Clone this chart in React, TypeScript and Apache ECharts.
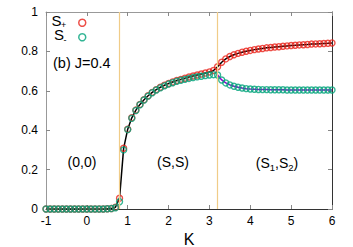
import React, { useEffect, useRef } from "react";
import * as echarts from "echarts";

const kValues = [
  -1.0, -0.9, -0.8, -0.7, -0.6, -0.5, -0.4, -0.3, -0.2, -0.1,
  0.0, 0.1, 0.2, 0.3, 0.4, 0.5, 0.6, 0.7, 0.8, 0.9,
  1.0, 1.1, 1.2, 1.3, 1.4, 1.5, 1.6, 1.7, 1.8, 1.9,
  2.0, 2.1, 2.2, 2.3, 2.4, 2.5, 2.6, 2.7, 2.8, 2.9,
  3.0, 3.1, 3.2, 3.3, 3.4, 3.5, 3.6, 3.7, 3.8, 3.9,
  4.0, 4.1, 4.2, 4.3, 4.4, 4.5, 4.6, 4.7, 4.8, 4.9,
  5.0, 5.1, 5.2, 5.3, 5.4, 5.5, 5.6, 5.7, 5.8, 5.9,
  6.0,
];

const sPlus = [
  0, 0, 0, 0, 0, 0, 0, 0, 0, 0,
  0, 0, 0, 0, 0, 0.001, 0.002, 0.009, 0.055, 0.308,
  0.405, 0.463, 0.502, 0.531, 0.555, 0.575, 0.592, 0.606, 0.618, 0.628,
  0.637, 0.645, 0.652, 0.658, 0.664, 0.670, 0.675, 0.680, 0.685, 0.690,
  0.696, 0.703, 0.722, 0.745, 0.762, 0.774, 0.783, 0.790, 0.796, 0.801,
  0.805, 0.809, 0.812, 0.815, 0.818, 0.820, 0.822, 0.824, 0.826, 0.828,
  0.830, 0.831, 0.833, 0.834, 0.835, 0.837, 0.838, 0.839, 0.840, 0.841,
  0.843,
];

const sMinus = [
  0, 0, 0, 0, 0, 0, 0, 0, 0, 0,
  0, 0, 0, 0, 0, 0.001, 0.002, 0.006, 0.037, 0.300,
  0.403, 0.461, 0.500, 0.529, 0.553, 0.573, 0.590, 0.604, 0.615, 0.625,
  0.634, 0.641, 0.648, 0.653, 0.658, 0.663, 0.667, 0.671, 0.674, 0.677,
  0.680, 0.682, 0.680, 0.655, 0.640, 0.630, 0.623, 0.618, 0.614, 0.611,
  0.609, 0.608, 0.607, 0.606, 0.606, 0.605, 0.605, 0.605, 0.605, 0.604,
  0.604, 0.604, 0.604, 0.604, 0.604, 0.604, 0.604, 0.604, 0.604, 0.604,
  0.604,
];

const phaseBoundaries = [0.79, 3.2];
const splitStart = 3.2;
const xTicks = { min: -1, max: 6, interval: 1 };
const yTicks = { min: 0, max: 1, interval: 0.2 };
const panelLabel = "(b) J=0.4";
const seriesNames = ["S+", "S-"];

const FONT = "'Liberation Sans', Arial, sans-serif";
const RED = "#e8231a";
const GREEN = "#00a27a";
const PURPLE = "#9400d3";
const BOUNDARY = "#f0cc88";

export default function App() {
  const ref = useRef<HTMLDivElement>(null);
  useEffect(() => {
    if (!ref.current) return;
    const chart = echarts.init(ref.current, undefined, { renderer: "svg" });
    const plusData = kValues.map((k, i) => [k, sPlus[i]]);
    const minusData = kValues.map((k, i) => [k, sMinus[i]]);
    const minusSplit = minusData.filter((d) => d[0] >= splitStart);

    const regionRich = {
      m: { fontSize: 14, fontFamily: FONT, fill: "#000" },
      s: { fontSize: 9.5, fontFamily: FONT, fill: "#000", padding: [8, 0, 0, 0] },
    };
    const legendMain = { fontSize: 15, fontFamily: FONT, fill: "#000", verticalAlign: "middle", lineHeight: 12 };
    const legendSub = { fontSize: 9, fontFamily: FONT, fill: "#000", verticalAlign: "middle", lineHeight: 7 };

    chart.setOption({
      animation: false,
      backgroundColor: "#fff",
      grid: { left: 46, right: 21, top: 12, bottom: 38, containLabel: false, outerBoundsMode: "none" },
      legend: {
        orient: "vertical",
        left: 78,
        top: 18.5,
        padding: 0,
        itemWidth: 7,
        itemHeight: 7,
        itemGap: 6,
        icon: "circle",
        data: [
          { name: seriesNames[0], itemStyle: { color: "rgba(0,0,0,0)", borderColor: RED, borderWidth: 1.5 } },
          { name: seriesNames[1], itemStyle: { color: "rgba(0,0,0,0)", borderColor: GREEN, borderWidth: 1.5 } },
        ],
        formatter: () => "",
        textStyle: { fontSize: 1 },
      },
      xAxis: [
        {
          type: "value",
          min: xTicks.min,
          max: xTicks.max,
          interval: xTicks.interval,
          name: "K",
          nameLocation: "middle",
          nameGap: 16,
          nameTextStyle: { fontSize: 16, fontFamily: FONT, color: "#000" },
          axisLine: { show: true, onZero: false, lineStyle: { color: "#333", width: 1 } },
          axisTick: { show: true, inside: true, length: 4, lineStyle: { color: "#888" } },
          axisLabel: { fontSize: 12, fontFamily: FONT, color: "#000", margin: 6 },
          splitLine: { show: false },
        },
        {
          type: "value",
          position: "top",
          min: xTicks.min,
          max: xTicks.max,
          interval: xTicks.interval,
          axisLine: { show: true, onZero: false, lineStyle: { color: "#999", width: 1 } },
          axisTick: { show: true, inside: true, length: 4, lineStyle: { color: "#888" } },
          axisLabel: { show: false },
          splitLine: { show: false },
        },
      ],
      yAxis: [
        {
          type: "value",
          min: yTicks.min,
          max: yTicks.max,
          interval: yTicks.interval,
          axisLine: { show: true, onZero: false, lineStyle: { color: "#999", width: 1 } },
          axisTick: { show: true, inside: true, length: 4, lineStyle: { color: "#888" } },
          axisLabel: { fontSize: 12, fontFamily: FONT, color: "#000", margin: 8 },
          splitLine: { show: false },
        },
        {
          type: "value",
          position: "right",
          min: yTicks.min,
          max: yTicks.max,
          interval: yTicks.interval,
          axisLine: { show: true, onZero: false, lineStyle: { color: "#333", width: 1 } },
          axisTick: { show: true, inside: true, length: 4, lineStyle: { color: "#888" } },
          axisLabel: { show: false },
          splitLine: { show: false },
        },
      ],
      graphic: [
        { type: "text", x: 51.5, y: 20.5, style: { text: "S", ...legendMain } },
        { type: "text", x: 61, y: 24.5, style: { text: "+", ...legendSub } },
        { type: "text", x: 54, y: 34, style: { text: "S", ...legendMain } },
        { type: "text", x: 63.5, y: 39.5, style: { text: "-", ...legendSub } },
        {
          type: "text",
          left: 53,
          top: 55,
          style: { text: panelLabel, fontSize: 14.5, fontFamily: FONT, fill: "#000" },
        },
        {
          type: "text",
          x: 82,
          y: 162,
          style: {
            text: "(0,0)",
            fontSize: 14,
            fontFamily: FONT,
            fill: "#000",
            align: "center",
            verticalAlign: "middle",
          },
        },
        {
          type: "text",
          x: 173,
          y: 162,
          style: {
            text: "(S,S)",
            fontSize: 14,
            fontFamily: FONT,
            fill: "#000",
            align: "center",
            verticalAlign: "middle",
          },
        },
        {
          type: "text",
          x: 277,
          y: 163,
          style: {
            text: "{m|(S}{s|1}{m|,S}{s|2}{m|)}",
            align: "center",
            verticalAlign: "middle",
            rich: regionRich,
          },
        },
      ],
      series: [
        {
          type: "line",
          name: "fit",
          data: plusData,
          showSymbol: false,
          symbol: "none",
          lineStyle: { color: "#000", width: 1.5 },
          z: 2,
          silent: true,
          markLine: {
            silent: true,
            symbol: "none",
            label: { show: false },
            lineStyle: { color: BOUNDARY, width: 1.2, type: "solid", opacity: 1 },
            emphasis: { disabled: true },
            data: phaseBoundaries.map((b) => ({ xAxis: b })),
          },
        },
        {
          type: "line",
          name: "fit2",
          data: minusSplit,
          showSymbol: false,
          symbol: "none",
          lineStyle: { color: PURPLE, width: 1.5 },
          z: 2,
          silent: true,
        },
        {
          type: "scatter",
          name: seriesNames[0],
          data: plusData,
          symbol: "circle",
          symbolSize: 6,
          itemStyle: { color: "rgba(0,0,0,0)", borderColor: RED, borderWidth: 1.4 },
          z: 3,
        },
        {
          type: "scatter",
          name: seriesNames[1],
          data: minusData,
          symbol: "circle",
          symbolSize: 6,
          itemStyle: { color: "rgba(0,0,0,0)", borderColor: GREEN, borderWidth: 1.4 },
          z: 4,
        },
      ],
    });
    return () => chart.dispose();
  }, []);
  return (
    <div
      ref={ref}
      style={{ position: "fixed", left: 0, top: 0, width: 353, height: 247, background: "#fff" }}
    />
  );
}
